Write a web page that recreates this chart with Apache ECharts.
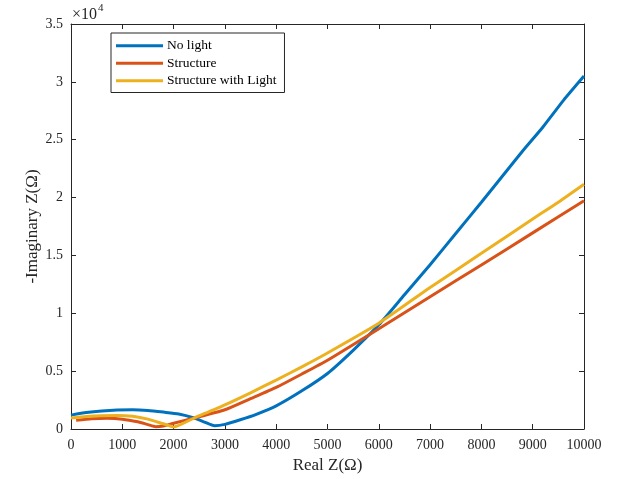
<!DOCTYPE html>
<html>
<head>
<meta charset="utf-8">
<script src="https://cdn.jsdelivr.net/npm/echarts@6/dist/echarts.min.js"></script>
<style>
html,body{margin:0;padding:0;background:#fff;}
#chart{width:619px;height:479px;}
</style>
</head>
<body>
<div id="chart"></div>
<script>
// Data
var seriesNames = ['No light', 'Structure', 'Structure with Light'];

var noLightX = [0, 300, 600, 900, 1200, 1500, 1800, 2100, 2400, 2600, 2800, 3000, 3300, 3600, 4000, 4500, 5000, 5500, 6000, 6500, 7000, 7500, 8000, 8400, 8800, 9200, 9600, 10000];
var noLightY = [1200, 1420, 1560, 1640, 1660, 1600, 1460, 1300, 950, 600, 280, 400, 800, 1250, 2000, 3300, 4800, 6800, 9000, 11600, 14200, 16900, 19600, 21800, 24000, 26100, 28400, 30500];

var structureX = [100, 400, 700, 1000, 1300, 1500, 1650, 1800, 2000, 2400, 3000, 3500, 4000, 4500, 5000, 6000, 7000, 8000, 9000, 10000];
var structureY = [750, 880, 920, 850, 620, 380, 200, 260, 500, 950, 1660, 2620, 3600, 4750, 5940, 8660, 11430, 14180, 16950, 19730];

var structLightX = [0, 300, 600, 900, 1200, 1500, 1800, 2000, 2400, 3000, 3500, 4000, 4500, 5000, 6000, 7000, 8000, 9000, 9500, 10000];
var structLightY = [950, 1080, 1150, 1170, 1100, 850, 450, 180, 950, 2090, 3130, 4230, 5370, 6570, 9140, 12230, 15180, 18150, 19600, 21150];

var xTicks = [0, 10000, 1000];   // min, max, step
var yTicks = [0, 35000, 5000];   // min, max, step (labels shown ×10^4)

function zip(xs, ys) { return xs.map(function (x, i) { return [x, ys[i]]; }); }

var FONT = 'Liberation Serif';
var INK = '#262626';
var colors = ['#0072BD', '#D95319', '#EDB120'];

var chart = echarts.init(document.getElementById('chart'), null, {renderer: 'canvas'});

function axisCommon() {
  return {
    axisLine: {show: true, onZero: false, lineStyle: {color: INK, width: 1}},
    axisTick: {show: true, inside: true, length: 5, lineStyle: {color: INK}},
    splitLine: {show: false}
  };
}

var xBottom = Object.assign(axisCommon(), {
  type: 'value', position: 'bottom', min: xTicks[0], max: xTicks[1], interval: xTicks[2],
  name: 'Real Z(\u03A9)', nameLocation: 'middle', nameGap: 28, nameMoveOverlap: false,
  nameTextStyle: {fontFamily: FONT, fontSize: 17, color: INK},
  axisLabel: {fontFamily: FONT, fontSize: 14, color: INK, margin: 9,
    formatter: function (v) { return String(v); }}
});
var xTop = Object.assign(axisCommon(), {
  type: 'value', position: 'top', min: xTicks[0], max: xTicks[1], interval: xTicks[2],
  axisLabel: {show: false}
});
var yLeft = Object.assign(axisCommon(), {
  type: 'value', position: 'left', min: yTicks[0], max: yTicks[1], interval: yTicks[2],
  name: '-Imaginary Z(\u03A9)', nameLocation: 'middle', nameGap: 30, nameRotate: 90, nameMoveOverlap: false,
  nameTextStyle: {fontFamily: FONT, fontSize: 17, color: INK},
  axisLabel: {fontFamily: FONT, fontSize: 14, color: INK, margin: 8,
    formatter: function (v) { return String(v / 10000); }}
});
var yRight = Object.assign(axisCommon(), {
  type: 'value', position: 'right', min: yTicks[0], max: yTicks[1], interval: yTicks[2],
  axisLabel: {show: false}
});

var xs = [noLightX, structureX, structLightX];
var ys = [noLightY, structureY, structLightY];

var option = {
  animation: false,
  backgroundColor: '#fff',
  textStyle: {fontFamily: FONT},
  title: {
    text: '{a|\u00D710}{b|4}',
    left: 72, top: 3, padding: 0,
    textStyle: {
      fontWeight: 'normal',
      rich: {
        a: {fontFamily: FONT, fontSize: 16, fontWeight: 'normal', color: INK, lineHeight: 20, verticalAlign: 'bottom'},
        b: {fontFamily: FONT, fontSize: 11, fontWeight: 'normal', color: INK, verticalAlign: 'top', padding: [0, 0, 0, 1]}
      }
    }
  },
  grid: {left: 71, right: 35, top: 24, bottom: 49, containLabel: false},
  legend: {
    orient: 'vertical', left: 111, top: 33,
    data: seriesNames,
    icon: 'rect', itemWidth: 47, itemHeight: 3, itemGap: 0,
    padding: [4, 8, 3, 5],
    borderColor: INK, borderWidth: 1, backgroundColor: '#fff',
    textStyle: {fontFamily: FONT, fontSize: 13.5, color: '#000', lineHeight: 17.5, padding: [0, 0, 0, -1]}
  },
  xAxis: [xBottom, xTop],
  yAxis: [yLeft, yRight],
  series: seriesNames.map(function (name, i) {
    return {
      name: name, type: 'line', xAxisIndex: 0, yAxisIndex: 0,
      data: zip(xs[i], ys[i]),
      showSymbol: false, symbol: 'none',
      smooth: 0.2,
      lineStyle: {color: colors[i], width: 3},
      itemStyle: {color: colors[i]},
      clip: true
    };
  })
};
chart.setOption(option);
</script>
</body>
</html>
